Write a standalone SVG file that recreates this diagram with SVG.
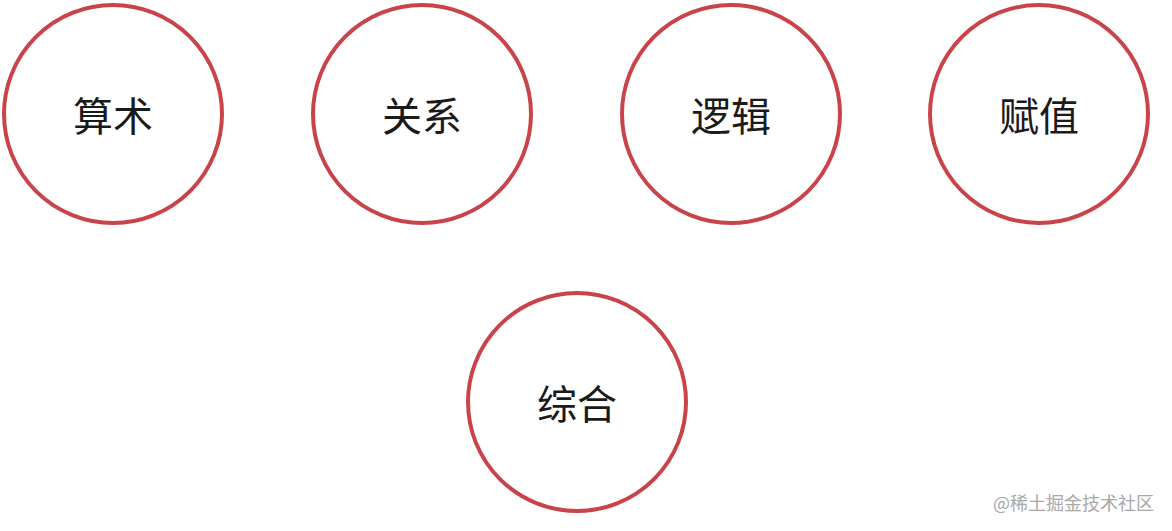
<svg xmlns="http://www.w3.org/2000/svg" width="1172" height="531" viewBox="0 0 1172 531">
<style>
.n circle{fill:#fff;stroke:#c8444a;stroke-width:4}
.n text{font-family:"Noto Sans CJK SC","Liberation Sans",sans-serif;font-size:40px;fill:#1a1a1a;text-anchor:middle;dominant-baseline:central}
.wm{font-family:"Noto Sans CJK SC","Liberation Sans",sans-serif;font-size:18px;fill:#a8a8a8}
</style>
<rect width="1172" height="531" fill="#fff"/>
<g id="connectors"></g>
<g id="n1" class="n"><circle cx="113" cy="114" r="109"/><text x="113" y="114">算术</text></g>
<g id="n2" class="n"><circle cx="422" cy="114" r="109"/><text x="422" y="114">关系</text></g>
<g id="n3" class="n"><circle cx="731" cy="114" r="109"/><text x="731" y="114">逻辑</text></g>
<g id="n4" class="n"><circle cx="1039" cy="114" r="109"/><text x="1039" y="114">赋值</text></g>
<g id="n5" class="n"><circle cx="577" cy="402" r="109"/><text x="577" y="402">综合</text></g>
<text class="wm" x="993" y="510">@稀土掘金技术社区</text>
</svg>
